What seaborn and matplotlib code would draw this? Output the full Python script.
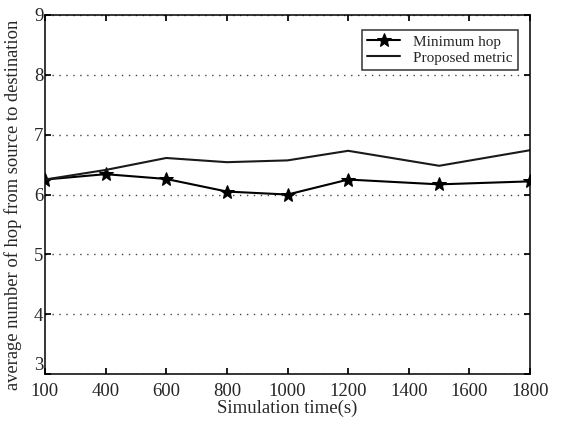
import numpy as np
import pandas as pd
import matplotlib
matplotlib.use("Agg")
import matplotlib.pyplot as plt
import seaborn as sns

# x values on the (linear) axis, evenly spaced ticks
sim_time = [200, 400, 600, 800, 1000, 1200, 1500, 1800]
min_hop = [6.25, 6.34, 6.26, 6.05, 6.00, 6.25, 6.17, 6.22]
proposed = [6.25, 6.41, 6.61, 6.54, 6.57, 6.73, 6.48, 6.74]

tick_pos = [200, 400, 600, 800, 1000, 1200, 1400, 1600, 1800]
tick_labels = ["100", "400", "600", "800", "1000", "1200", "1400", "1600", "1800"]

sns.set_theme(style="white")
plt.rcParams["font.family"] = ["Liberation Serif", "DejaVu Serif"]

df = pd.DataFrame({"time": sim_time, "Minimum hop": min_hop, "Proposed metric": proposed})

fig, ax = plt.subplots(figsize=(5.61, 4.22), dpi=100)
fig.subplots_adjust(left=0.08, right=0.945, top=0.965, bottom=0.113)

sns.lineplot(data=df, x="time", y="Minimum hop", ax=ax, color="black", lw=1.5,
             marker="*", markersize=10, markeredgecolor="black", label="Minimum hop")
sns.lineplot(data=df, x="time", y="Proposed metric", ax=ax, color="#1a1a1a", lw=1.5,
             label="Proposed metric")

ax.set_xlim(200, 1800)
ax.set_ylim(3, 9)
ax.set_xticks(tick_pos)
ax.set_xticklabels(tick_labels)
ax.set_yticks([3, 4, 5, 6, 7, 8, 9])
ax.yaxis.grid(True, linestyle=(0, (1, 4)), color="#444444", lw=1.0)
ax.xaxis.grid(False)
for s in ax.spines.values():
    s.set_color("black")
    s.set_linewidth(1.1)
ax.tick_params(direction="in", length=4, color="black", labelsize=13.5,
               top=True, right=True, bottom=True, left=True)
ax.tick_params(axis="x", pad=6)
ax.tick_params(axis="y", pad=1)
# lowest y label sits just above the axis line, as in the original
ax.get_yticklabels()[0].set_va("bottom")
ax.set_xlabel("Simulation time(s)", fontsize=13.5, labelpad=0)
ax.set_ylabel("average number of hop from source to destination", fontsize=13.3, labelpad=0)
ax.yaxis.set_label_coords(-0.047, 0.47)

leg = ax.legend(loc="upper right", fontsize=11, frameon=True, fancybox=False,
                edgecolor="black", borderpad=0.35, handlelength=2.2, labelspacing=0.15,
                bbox_to_anchor=(0.99, 0.98))
leg.get_frame().set_linewidth(1.1)

plt.savefig("out.png", dpi=100)
